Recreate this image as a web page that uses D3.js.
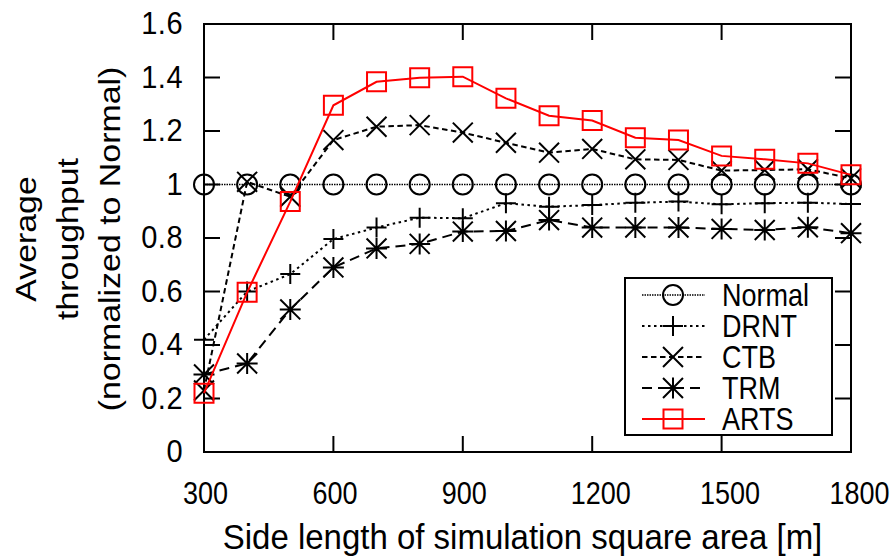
<!DOCTYPE html>
<html>
<head>
<meta charset="utf-8">
<script src="https://cdn.jsdelivr.net/npm/d3@7"></script>
<style>
  html, body { margin: 0; padding: 0; background: #fff; }
  svg { display: block; font-family: "Liberation Sans", Arial, Helvetica, sans-serif; }
</style>
</head>
<body>
<div id="chart"></div>
<script>
const sideLengths = [300, 400, 500, 600, 700, 800, 900, 1000, 1100, 1200, 1300, 1400, 1500, 1600, 1700, 1800];

const normal = [1, 1, 1, 1, 1, 1, 1, 1, 1, 1, 1, 1, 1, 1, 1, 1];
const drnt = [0.42, 0.60, 0.665, 0.796, 0.839, 0.876, 0.874, 0.930, 0.917, 0.923, 0.932, 0.936, 0.926, 0.930, 0.932, 0.927];
const ctb = [0.23, 1.01, 0.954, 1.166, 1.216, 1.222, 1.194, 1.156, 1.119, 1.133, 1.094, 1.092, 1.052, 1.054, 1.057, 1.023];
const trm = [0.29, 0.331, 0.533, 0.690, 0.761, 0.778, 0.824, 0.826, 0.867, 0.839, 0.839, 0.839, 0.834, 0.830, 0.840, 0.818];
const arts = [0.22, 0.597, 0.936, 1.296, 1.384, 1.399, 1.403, 1.322, 1.257, 1.239, 1.175, 1.166, 1.107, 1.094, 1.079, 1.036];

const xTicks = [300, 600, 900, 1200, 1500, 1800];
const yTicks = [0, 0.2, 0.4, 0.6, 0.8, 1, 1.2, 1.4, 1.6];

const seriesNames = ['Normal', 'DRNT', 'CTB', 'TRM', 'ARTS'];
const series = [
  { name: 'Normal', values: normal, marker: 'circle', color: '#000', dash: '1.5,1', lw: 1.6 },
  { name: 'DRNT', values: drnt, marker: 'plus', color: '#000', dash: '2.5,3.5', lw: 2 },
  { name: 'CTB', values: ctb, marker: 'times', color: '#000', dash: '5.5,3.5', lw: 2 },
  { name: 'TRM', values: trm, marker: 'asterisk', color: '#000', dash: '10,6', lw: 2 },
  { name: 'ARTS', values: arts, marker: 'square', color: '#ff0000', dash: null, lw: 2 },
];

const width = 896, height = 557;
const margin = { top: 24, right: 45, bottom: 105, left: 204 };
const innerW = width - margin.left - margin.right;
const innerH = height - margin.top - margin.bottom;
const FS = 27, SY = 1.14; // gnuplot output is stretched vertically
const tickLen = 16;

const x = d3.scaleLinear().domain([300, 1800]).range([0, innerW]);
const y = d3.scaleLinear().domain([0, 1.6]).range([innerH, 0]);

function markerPath(type, r) {
  const p = d3.path();
  if (type === 'circle') {
    p.moveTo(r, 0); p.arc(0, 0, r, 0, 2 * Math.PI);
  } else if (type === 'square') {
    p.rect(-r, -r, 2 * r, 2 * r);
  } else {
    const plus = () => { p.moveTo(-r, 0); p.lineTo(r, 0); p.moveTo(0, -r); p.lineTo(0, r); };
    const times = () => { const k = r * 0.95; p.moveTo(-k, -k); p.lineTo(k, k); p.moveTo(-k, k); p.lineTo(k, -k); };
    if (type === 'plus' || type === 'asterisk') plus();
    if (type === 'times' || type === 'asterisk') times();
  }
  return p.toString();
}
const markerSize = { circle: 10, square: 9.5, plus: 10, times: 10.5, asterisk: 10.5 };

const svg = d3.select('#chart').append('svg')
  .attr('width', width).attr('height', height);

const g = svg.append('g').attr('transform', `translate(${margin.left},${margin.top})`);

// ticks, drawn inward on all four sides
const ticksG = g.append('g').attr('stroke', '#000').attr('stroke-width', 2);
ticksG.selectAll('line.xb').data(xTicks).join('line')
  .attr('x1', d => x(d)).attr('x2', d => x(d)).attr('y1', innerH).attr('y2', innerH - tickLen);
ticksG.selectAll('line.xt').data(xTicks).join('line')
  .attr('x1', d => x(d)).attr('x2', d => x(d)).attr('y1', 0).attr('y2', tickLen);
ticksG.selectAll('line.yl').data(yTicks).join('line')
  .attr('y1', d => y(d)).attr('y2', d => y(d)).attr('x1', 0).attr('x2', tickLen);
ticksG.selectAll('line.yr').data(yTicks).join('line')
  .attr('y1', d => y(d)).attr('y2', d => y(d)).attr('x1', innerW).attr('x2', innerW - tickLen);

// axes labels via d3 axes
const xAxis = g.append('g').attr('transform', `translate(0,${innerH})`)
  .call(d3.axisBottom(x).tickValues(xTicks).tickSize(0).tickPadding(0).tickFormat(d3.format('d')));
xAxis.select('.domain').remove();
xAxis.selectAll('text')
  .attr('font-size', FS).attr('fill', '#000').attr('font-family', null)
  .attr('x', d => d >= 1000 ? 8 : 1)
  .attr('y', 52 / SY).attr('dy', null)
  .attr('transform', `scale(1,${SY})`);

const yAxis = g.append('g')
  .call(d3.axisLeft(y).tickValues(yTicks).tickSize(0).tickPadding(21).tickFormat(d => d3.format('')(+d.toFixed(1))));
yAxis.select('.domain').remove();
yAxis.selectAll('text')
  .attr('font-size', 29).attr('fill', '#000').attr('font-family', null)
  .attr('letter-spacing', 0.5)
  .attr('transform', 'scale(1,1.06)');

// frame
g.append('rect').attr('width', innerW).attr('height', innerH)
  .attr('fill', 'none').attr('stroke', '#000').attr('stroke-width', 2);

// series
const line = d3.line().x((d, i) => x(sideLengths[i])).y(d => y(d));
const plot = g.append('g');
series.forEach(s => {
  plot.append('path')
    .attr('d', line(s.values))
    .attr('fill', 'none').attr('stroke', s.color).attr('stroke-width', s.lw)
    .attr('stroke-dasharray', s.dash);
  plot.append('g').selectAll('path').data(s.values).join('path')
    .attr('transform', (d, i) => `translate(${x(sideLengths[i])},${y(d)})`)
    .attr('d', markerPath(s.marker, markerSize[s.marker]))
    .attr('fill', 'none').attr('stroke', s.color).attr('stroke-width', 2);
});

// legend
const legend = svg.append('g');
legend.append('rect')
  .attr('x', 625).attr('y', 278).attr('width', 207).attr('height', 157)
  .attr('fill', '#fff').attr('stroke', '#000').attr('stroke-width', 2);
const rowY = d3.scalePoint().domain(seriesNames).range([295, 419]);
series.forEach(s => {
  const ly = rowY(s.name);
  legend.append('line').attr('x1', 642).attr('x2', 705).attr('y1', ly).attr('y2', ly)
    .attr('stroke', s.color).attr('stroke-width', s.lw).attr('stroke-dasharray', s.dash);
  legend.append('path').attr('transform', `translate(673,${ly})`)
    .attr('d', markerPath(s.marker, markerSize[s.marker]))
    .attr('fill', 'none').attr('stroke', s.color).attr('stroke-width', 2);
  legend.append('text')
    .attr('transform', `translate(722,${ly}) scale(1,${SY})`)
    .attr('dy', '0.36em').attr('font-size', FS).attr('fill', '#000')
    .text(s.name);
});

// axis titles
svg.append('text')
  .attr('transform', `translate(${margin.left + innerW / 2 - 5},549) scale(1,1.09)`)
  .attr('text-anchor', 'middle').attr('font-size', 33)
  .text('Side length of simulation square area [m]');

const yTitle = ['Average', 'throughput', '(normalized to Normal)'];
svg.selectAll('text.ytitle').data(yTitle).join('text')
  .attr('class', 'ytitle')
  .attr('transform', (d, i) => `translate(${36 + i * 42},239) scale(1,1.13) rotate(-90)`)
  .attr('text-anchor', 'middle').attr('font-size', 30)
  .text(d => d);
</script>
</body>
</html>
